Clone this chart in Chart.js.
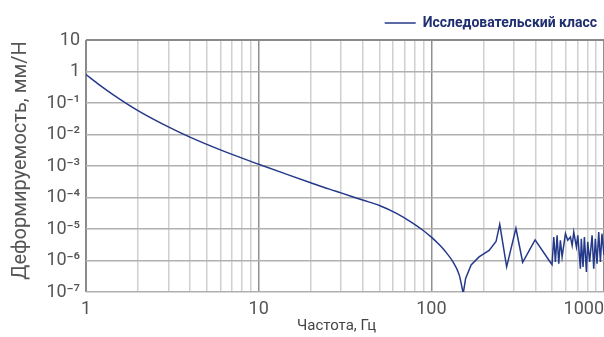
<!DOCTYPE html>
<html>
<head>
<meta charset="utf-8">
<script src="https://cdn.jsdelivr.net/npm/chart.js@4"></script>
<style>
  html, body { margin: 0; padding: 0; background: #fff; overflow: hidden; }
  #wrap { width: 604px; height: 337px; position: relative; }
</style>
</head>
<body>
<div id="wrap"><canvas id="c"></canvas></div>
<script>
// Smooth part of the response: frequency, Hz / compliance, mm/N
const freqSmooth = [1, 1.2, 1.44, 2, 3, 4, 6, 10, 15, 20,
  25.7, 30, 40, 50, 62.5, 78, 89, 100, 111, 119,
  133, 145, 153];
const complianceSmooth = [0.794, 0.37, 0.182, 0.0574, 0.0174, 0.00822, 0.00324, 0.001135, 0.000513, 0.000295,
  0.000184, 0.00014, 0.000083, 0.000056, 0.000032, 0.0000155, 0.0000093, 0.0000055, 0.0000032, 0.0000021,
  9.3e-7, 3.5e-7, 9e-8];
// Resonance / noise part: frequency, Hz / compliance, mm/N
const freqNoise = [153, 158, 170, 189, 216, 237, 249, 273,
  309, 338, 399, 481, 500, 512, 523, 535, 547, 559,
  572, 598, 617, 639, 654, 668, 692, 705, 730, 739,
  756, 770, 791, 805, 826, 853, 872, 891, 911, 932,
  953, 973, 1000];
const complianceNoise = [9e-8, 2.7e-7, 7.2e-7, 1.3e-6, 2.1e-6, 4e-6, 1.4e-5, 6.3e-7,
  1.05e-5, 8.8e-7, 4.5e-6, 1e-6, 7.4e-7, 5.6e-6, 9e-7, 6.3e-6, 7.9e-7, 4.4e-6,
  1.3e-6, 7.1e-6, 4.4e-6, 5.6e-6, 3e-6, 8e-6, 2.7e-6, 6.3e-6, 5.5e-7, 4.9e-6,
  6.2e-7, 5.6e-6, 4.3e-7, 3.9e-6, 9e-7, 6.3e-6, 5.5e-7, 4.9e-6, 7.9e-7, 8e-6,
  9e-7, 7.1e-6, 1.5e-6];

const seriesName = 'Исследовательский класс';
const xTitle = 'Частота, Гц\u2007\u2007';
const yTitle = '\u2007Деформируемость, мм/Н';

const xGridValues = [1,2,3,4,5,6,7,8,9,10,20,30,40,50,60,70,80,90,100,200,300,400,500,600,700,800,900,1000];
const xLabelValues = [1, 10, 100, 1000];
const xTickLabels = ['1', '10', '100', '1000\u2007\u2007\u2007\u2007'];

const yTickValues = [10, 1, 1e-1, 1e-2, 1e-3, 1e-4, 1e-5, 1e-6, 1e-7];
const yTickLabels = ['10', '1', '10⁻¹', '10⁻²', '10⁻³', '10⁻⁴', '10⁻⁵', '10⁻⁶', '10⁻⁷'];

const smoothPoints = freqSmooth.map((f, i) => ({ x: f, y: complianceSmooth[i] }));
const noisePoints = freqNoise.map((f, i) => ({ x: f, y: complianceNoise[i] }));
const FONT = 'Roboto, "Noto Sans", sans-serif';
const LINE = '#25398a';

new Chart(document.getElementById('c'), {
  type: 'line',
  data: {
    datasets: [{
      label: seriesName,
      data: smoothPoints,
      borderColor: LINE,
      backgroundColor: LINE,
      borderWidth: 1.5,
      pointRadius: 0,
      cubicInterpolationMode: 'monotone',
      fill: false
    }, {
      label: seriesName + ' ',
      data: noisePoints,
      borderColor: LINE,
      backgroundColor: LINE,
      borderWidth: 1.5,
      pointRadius: 0,
      tension: 0,
      fill: false
    }]
  },
  options: {
    responsive: true,
    maintainAspectRatio: false,
    animation: false,
    events: [],
    layout: { padding: { top: 5, right: 0, bottom: 0, left: 0 } },
    plugins: {
      tooltip: { enabled: false },
      legend: {
        position: 'top',
        align: 'end',
        labels: {
          usePointStyle: true,
          pointStyle: 'line',
          pointStyleWidth: 31,
          padding: 7,
          color: '#1f2f70',
          font: { family: FONT, size: 14, weight: 'bold' },
          filter: (item) => item.datasetIndex === 0
        }
      }
    },
    scales: {
      x: {
        type: 'logarithmic',
        min: 1,
        max: 1000,
        border: { display: false },
        grid: {
          drawTicks: false,
          color: (ctx) => {
            const v = ctx.tick && ctx.tick.value;
            if (v === 1) return '#8a8a8a';
            if (xLabelValues.includes(v)) return '#8f8f8f';
            return '#d0d0d0';
          },
          lineWidth: (ctx) => {
            const v = ctx.tick && ctx.tick.value;
            if (v === 1) return 2;
            return 1.5;
          }
        },
        afterBuildTicks: (scale) => {
          scale.ticks = xGridValues.map(v => ({ value: v }));
        },
        afterFit: (scale) => {
          scale.height = 45;
          scale.paddingLeft = 0;
          scale.paddingRight = 0;
        },
        ticks: {
          autoSkip: false,
          maxRotation: 0,
          padding: 7,
          color: '#555',
          font: { family: FONT, size: 18 },
          callback: function (value) {
            const idx = xLabelValues.indexOf(value);
            return idx >= 0 ? xTickLabels[idx] : '';
          }
        },
        title: {
          display: true,
          text: xTitle,
          color: '#444',
          font: { family: FONT, size: 15 },
          padding: { top: 0, bottom: 2 }
        }
      },
      y: {
        type: 'logarithmic',
        min: 1e-7,
        max: 10,
        border: { display: false },
        grid: {
          drawTicks: false,
          color: (ctx) => (ctx.tick && ctx.tick.value === 10) ? '#8a8a8a' : '#b0b0b0',
          lineWidth: (ctx) => (ctx.tick && ctx.tick.value === 10) ? 2 : 1.5
        },
        afterBuildTicks: (scale) => {
          scale.ticks = yTickValues.map(v => ({ value: v }));
        },
        afterFit: (scale) => {
          scale.width = 86;
          scale.paddingTop = 40;
          scale.paddingBottom = 0;
        },
        ticks: {
          autoSkip: false,
          padding: 6,
          color: '#555',
          font: { family: FONT, size: 18 },
          callback: function (value) {
            const idx = yTickValues.indexOf(value);
            return idx >= 0 ? yTickLabels[idx] : '';
          }
        },
        title: {
          display: true,
          text: yTitle,
          color: '#555',
          font: { family: FONT, size: 20 },
          padding: { top: 9, bottom: 0 }
        }
      }
    }
  }
});
</script>
</body>
</html>
